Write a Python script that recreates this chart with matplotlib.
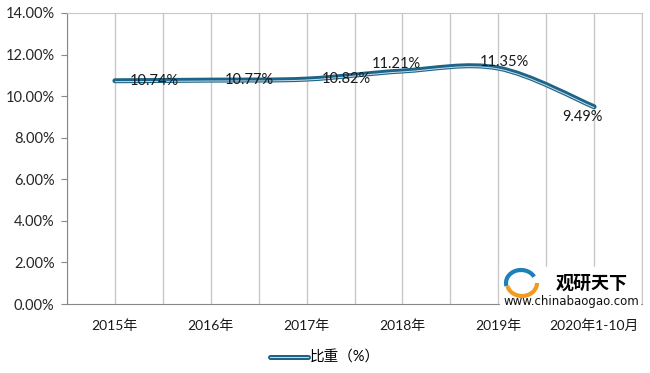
import numpy as np
import matplotlib
matplotlib.use("Agg")
import matplotlib.pyplot as plt
from matplotlib.path import Path
from matplotlib.patches import PathPatch, Arc
from matplotlib.lines import Line2D
from matplotlib.legend_handler import HandlerTuple
from matplotlib.transforms import offset_copy

plt.rcParams['font.family'] = ['Lato', 'Noto Sans CJK SC', 'DejaVu Sans']

# data
years = ["2015年", "2016年", "2017年", "2018年", "2019年", "2020年1-10月"]
share = [10.74, 10.77, 10.82, 11.21, 11.35, 9.49]
yticks = [0, 2, 4, 6, 8, 10, 12, 14]
series_name = "比重（%）"

# label offsets in pixels (where the data labels sit)
label_off = [(39, 0), (39, 0), (40, 0), (-6, 7), (6, 6), (-12, -10)]

DARK = "#1d6488"
LIGHT = "#c9dde8"

fig = plt.figure(figsize=(6.5, 3.73), dpi=100)
ax = fig.add_axes([67/650, 1-304/373, 575/650, 291/373])

x = np.arange(len(share))
y = np.array(share)

# smooth line as a bezier path (same idea as excel smoothing)
def smooth_path(xs, ys):
    px = np.concatenate([[xs[0]], xs, [xs[-1]]])
    py = np.concatenate([[ys[0]], ys, [ys[-1]]])
    verts = [(xs[0], ys[0])]
    codes = [Path.MOVETO]
    for i in range(1, len(px) - 2):
        c1 = (px[i] + (px[i+1] - px[i-1]) / 6, py[i] + (py[i+1] - py[i-1]) / 6)
        c2 = (px[i+1] - (px[i+2] - px[i]) / 6, py[i+1] - (py[i+2] - py[i]) / 6)
        verts += [c1, c2, (px[i+1], py[i+1])]
        codes += [Path.CURVE4] * 3
    return Path(verts, codes)

p = smooth_path(x.astype(float), y)
ax.add_patch(PathPatch(p, fill=False, edgecolor=DARK, lw=3.6, capstyle='round', zorder=3))
ax.add_patch(PathPatch(p, fill=False, edgecolor=LIGHT, lw=0.7, zorder=4,
                       transform=offset_copy(ax.transData, fig, x=0, y=-0.9, units='dots')))

for i, v in enumerate(share):
    ax.annotate(f"{v:.2f}%", (x[i], v), xytext=label_off[i], textcoords='offset pixels',
                ha='center', va='center', fontsize=10.5, color='#1a1a1a', zorder=5)

ax.set_xlim(-0.5, len(share) - 0.5)
ax.set_ylim(0, 14)
ax.set_yticks(yticks)
ax.set_yticklabels([f"{t:.2f}%" for t in yticks], fontsize=10.5, color='#262626')
ax.set_xticks(x)
ax.set_xticklabels(years, fontsize=10, color='#1a1a1a')
ax.set_xticks(np.arange(-0.5, len(share), 1.0), minor=True)
ax.grid(True, axis='x', which='both', color='#c8c8c8', lw=1)
ax.tick_params(axis='x', which='both', length=0, pad=11)
ax.tick_params(axis='y', length=4, color='#888888', pad=5)
for s in ['top', 'right']:
    ax.spines[s].set_color('#c8c8c8')
for s in ['left', 'bottom']:
    ax.spines[s].set_color('#888888')

h_dark = Line2D([], [], color=DARK, lw=3.6, solid_capstyle='round')
h_light = Line2D([], [], color=LIGHT, lw=0.7)
fig.legend([(h_dark, h_light)], [series_name], handler_map={tuple: HandlerTuple(ndivide=1)},
           loc='center', bbox_to_anchor=(0.5, 1 - 358/373), frameon=False,
           fontsize=10.5, handlelength=2.6, handletextpad=0.1)

# watermark
fig.patches.append(matplotlib.patches.Rectangle((500/650, 1-305/373), 140/650, 38/373,
                   transform=fig.transFigure, color='white', zorder=10))
fig.patches.append(Arc((521/650, 1-283/373), 30/650, 26/373, theta1=40, theta2=200,
                   transform=fig.transFigure, color='#1f7fb8', lw=3, zorder=11))
fig.patches.append(Arc((522/650, 1-283/373), 30/650, 26/373, theta1=200, theta2=360,
                   transform=fig.transFigure, color='#f39a1e', lw=3, zorder=11))
fig.text(592/650, 1-283/373, "观研天下", ha='center', va='center', fontsize=13,
         fontweight='bold', family=['Noto Sans CJK SC'], zorder=12)
fig.text(571/650, 1-301/373, "www.chinabaogao.com", ha='center', va='center', fontsize=8.5,
         family=['DejaVu Sans'], color='#111111', zorder=12)

fig.savefig("out.png", dpi=100)
